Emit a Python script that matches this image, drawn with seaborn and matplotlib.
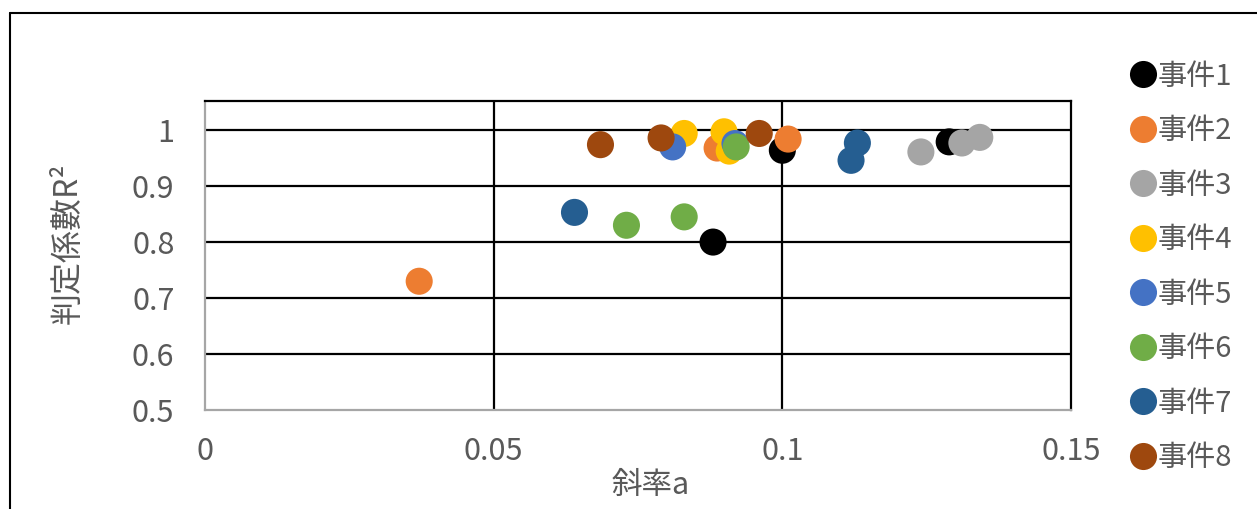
import matplotlib
matplotlib.use("Agg")
import matplotlib.pyplot as plt
from matplotlib.lines import Line2D
import seaborn as sns
import pandas as pd

# Slope a and coefficient of determination R^2 for each event
event_names = ["事件1", "事件2", "事件3", "事件4", "事件5", "事件6", "事件7", "事件8"]
slope_1 = [0.100, 0.088, 0.1289]
r2_1 = [0.964, 0.800, 0.979]
slope_2 = [0.0371, 0.0887, 0.101]
r2_2 = [0.730, 0.968, 0.984]
slope_3 = [0.124, 0.1311, 0.1342]
r2_3 = [0.961, 0.977, 0.987]
slope_4 = [0.083, 0.0899, 0.0908]
r2_4 = [0.994, 0.997, 0.9625]
slope_5 = [0.081, 0.0918]
r2_5 = [0.970, 0.976]
slope_6 = [0.073, 0.083, 0.092]
r2_6 = [0.830, 0.845, 0.970]
slope_7 = [0.064, 0.113, 0.1119]
r2_7 = [0.853, 0.977, 0.946]
slope_8 = [0.0685, 0.079, 0.096]
r2_8 = [0.974, 0.986, 0.994]

x_ticks = [0, 0.05, 0.1, 0.15]
x_tick_labels = ["0", "0.05", "0.1", "0.15"]
y_ticks = [0.5, 0.6, 0.7, 0.8, 0.9, 1.0]
y_tick_labels = ["0.5", "0.6", "0.7", "0.8", "0.9", "1"]

colors = ["#000000", "#ED7D31", "#A5A5A5", "#FFC000",
          "#4472C4", "#70AD47", "#255E91", "#9E480E"]

slopes = [slope_1, slope_2, slope_3, slope_4, slope_5, slope_6, slope_7, slope_8]
r2s = [r2_1, r2_2, r2_3, r2_4, r2_5, r2_6, r2_7, r2_8]
rows = []
for name, xs, ys in zip(event_names, slopes, r2s):
    for xv, yv in zip(xs, ys):
        rows.append({"event": name, "slope": xv, "r2": yv})
df = pd.DataFrame(rows)

sns.set_style("white")
plt.rcParams["font.family"] = ["Noto Sans CJK JP", "DejaVu Sans"]
text_color = "#595959"

W, H = 1257, 509
fig = plt.figure(figsize=(W / 100, H / 100), dpi=100)
ax = fig.add_axes([205 / W, 1 - 410 / H, (1071 - 205) / W, (410 - 101) / H])

sns.scatterplot(data=df, x="slope", y="r2", hue="event", hue_order=event_names,
                palette=colors, s=380, linewidth=0, alpha=1, legend=False,
                ax=ax, zorder=3)

ax.set_xlim(0, 0.15)
ax.set_ylim(0.5, 1.052)
ax.set_xticks(x_ticks)
ax.set_xticklabels(x_tick_labels)
ax.set_yticks(y_ticks)
ax.set_yticklabels(y_tick_labels)
ax.tick_params(axis="both", length=0, labelsize=22, labelcolor=text_color)
ax.tick_params(axis="x", pad=19)
ax.tick_params(axis="y", pad=22)

for yv in y_ticks[1:]:
    ax.axhline(yv, color="black", lw=1.6, zorder=1)
for xv in x_ticks[1:3]:
    ax.axvline(xv, color="black", lw=1.6, zorder=1)

for side in ["top", "right"]:
    ax.spines[side].set_color("black")
    ax.spines[side].set_linewidth(1.6)
for side in ["left", "bottom"]:
    ax.spines[side].set_color("#A6A6A6")
    ax.spines[side].set_linewidth(1.6)

ax.set_xlabel("斜率a", fontsize=22, color=text_color)
ax.xaxis.set_label_coords((651 - 205) / 866, -(485 - 410) / 309)
ax.xaxis.label.set_va("center")
ax.set_ylabel("判定係數R²", fontsize=23, color=text_color)
ax.yaxis.set_label_coords(-(205 - 68) / 866, (410 - 243) / 309)
ax.yaxis.label.set_va("center")

handles = [Line2D([], [], marker="o", linestyle="none", markersize=19.5,
                  markerfacecolor=c, markeredgewidth=0) for c in colors]
leg = fig.legend(handles, event_names, loc="upper left",
                 bbox_to_anchor=(1114 / W, 1 - 50 / H), frameon=False,
                 fontsize=21, handletextpad=-0.1, labelspacing=0.84,
                 borderaxespad=0, handlelength=1.2)
for t in leg.get_texts():
    t.set_color(text_color)

# Outer chart border (left and top edges)
fig.add_artist(Line2D([10 / W, 10 / W], [0, 1 - 13 / H], color="black", lw=1.5,
                      transform=fig.transFigure))
fig.add_artist(Line2D([10 / W, 1], [1 - 13 / H, 1 - 13 / H], color="black", lw=1.5,
                      transform=fig.transFigure))

fig.savefig("out.png", dpi=100)
